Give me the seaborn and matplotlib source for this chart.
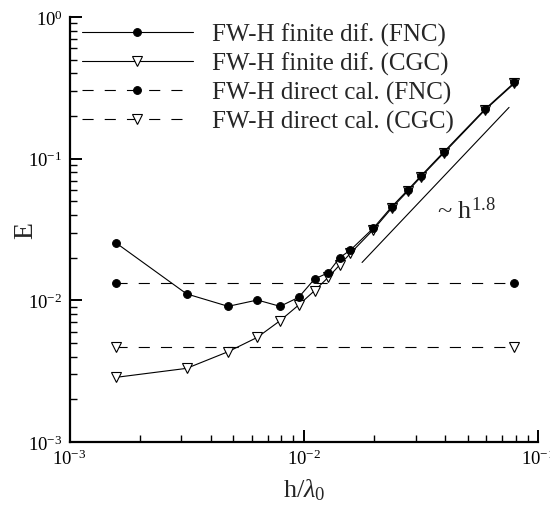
import matplotlib
matplotlib.use("Agg")
import matplotlib.pyplot as plt
import seaborn as sns

# grid spacing normalised by wavelength
h_fine = [0.00158, 0.00316, 0.00475, 0.00633, 0.00791, 0.0095, 0.0111, 0.0127,
          0.0142, 0.0158, 0.0198, 0.0237, 0.0277, 0.0316, 0.0396, 0.0593, 0.0791]

# error of the finite-difference FW-H evaluation
err_fd_fnc = [0.0254, 0.0111, 0.00907, 0.01005, 0.00907, 0.0105, 0.01414, 0.01566,
              0.0200, 0.02265, 0.0324, 0.0458, 0.0600, 0.0757, 0.112, 0.224, 0.345]
err_fd_cgc = [0.00286, 0.00331, 0.00434, 0.00548, 0.00718, 0.00927, 0.0117, 0.01453,
              0.01775, 0.0215, 0.0316, 0.0448, 0.0588, 0.0745, 0.110, 0.221, 0.340]

# direct calculation (grid independent)
h_direct = [0.00158, 0.0791]
err_dc_fnc = [0.01335, 0.01335]
err_dc_cgc = [0.00466, 0.00466]

# reference slope line ~ h^1.8
h_ref = [0.0177, 0.075]
err_ref = [0.0185, 0.230]

labels = ["FW-H finite dif. (FNC)", "FW-H finite dif. (CGC)",
          "FW-H direct cal. (FNC)", "FW-H direct cal. (CGC)"]

sns.set_theme(style="ticks")
plt.rcParams["font.family"] = ["Liberation Serif", "DejaVu Serif"]
plt.rcParams["mathtext.fontset"] = "custom"
plt.rcParams["mathtext.rm"] = "Liberation Serif"
plt.rcParams["mathtext.it"] = "Liberation Serif:italic"

fig = plt.figure(figsize=(5.5, 5.06), dpi=100)
ax = fig.add_axes([0.1264, 0.1245, 0.8524, 0.840])

line_kw = dict(color="black", linewidth=0.8, estimator=None, sort=False, ax=ax)
circle_kw = dict(marker="o", markersize=5.6, markerfacecolor="black",
                 markeredgecolor="black", zorder=4)
tri_kw = dict(marker="v", markersize=7, markerfacecolor="white",
              markeredgecolor="black", markeredgewidth=0.8, zorder=3)
dash = (0, (10, 10))

sns.lineplot(x=h_fine, y=err_fd_fnc, label=labels[0], **line_kw, **circle_kw)
sns.lineplot(x=h_fine, y=err_fd_cgc, label=labels[1], **line_kw, **tri_kw)
sns.lineplot(x=h_direct, y=err_dc_fnc, label=labels[2], linestyle=dash,
             **line_kw, **circle_kw)
sns.lineplot(x=h_direct, y=err_dc_cgc, label=labels[3], linestyle=dash,
             **line_kw, **tri_kw)
sns.lineplot(x=h_ref, y=err_ref, color="black", linewidth=0.8,
             estimator=None, sort=False, ax=ax, legend=False)

ax.set_xscale("log")
ax.set_yscale("log")
ax.set_xlim(1e-3, 1e-1)
ax.set_ylim(1e-3, 1e0)

for s in ["top", "right"]:
    ax.spines[s].set_visible(False)
for s in ["left", "bottom"]:
    ax.spines[s].set_linewidth(1.6)
    ax.spines[s].set_color("black")

ax.tick_params(which="major", direction="in", length=8.5, width=1.4,
               labelsize=13.5, pad=5, colors="black")
ax.tick_params(which="minor", direction="in", length=5, width=1.0,
               colors="black")

ax.set_xlabel(r"h/$\lambda_0$", fontsize=19, labelpad=5.5)
ax.set_ylabel("E", fontsize=20, labelpad=-7)

ax.text(0.037, 0.0435, r"~ h$^{1.8}$", fontsize=19, ha="left", va="center")

leg = ax.legend(loc="upper left", bbox_to_anchor=(0.026, 0.987),
                frameon=False, fontsize=18, handlelength=4.45,
                handletextpad=0.75, labelspacing=0.24, borderpad=0,
                borderaxespad=0)

fig.savefig("out.png", dpi=100)
